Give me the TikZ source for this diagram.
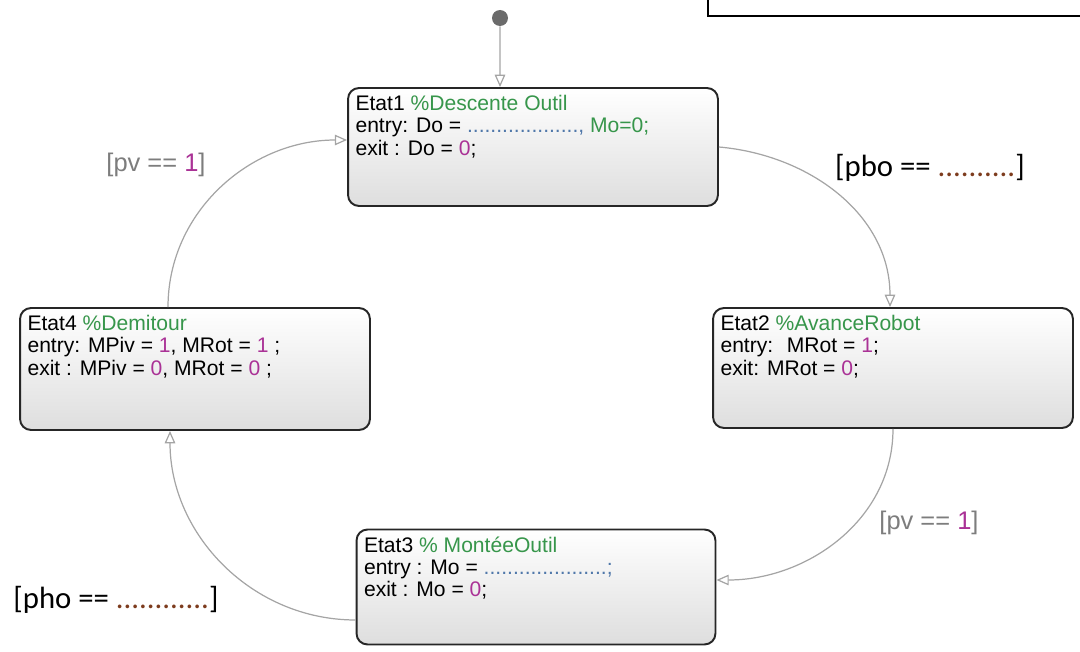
\documentclass[tikz,border=0pt]{standalone}
\usepackage{fontspec}
\setmainfont{Liberation Sans}
\newfontfamily\calibrifont{Carlito}
\usetikzlibrary{arrows.meta}

\definecolor{etatgreen}{RGB}{55,150,75}
\definecolor{etatmag}{RGB}{170,50,150}
\definecolor{dotblue}{RGB}{80,120,170}
\definecolor{dotbrown}{RGB}{125,60,30}
\definecolor{labelgray}{RGB}{125,125,125}
\definecolor{transgray}{RGB}{165,165,165}

\tikzset{
	etat/.style={draw=black!85, line width=1.1pt, rounded corners=0.22cm, top color=white, bottom color=black!13, inner sep=0.15cm, font=\fontsize{12}{12.6}\selectfont},
	trans/.style={draw=transgray, line width=0.7pt, -{Triangle[open,length=7pt,width=6pt]}},
	garde/.style={font=\fontsize{14.5}{16}\selectfont, text=labelgray},
	gardeq/.style={font=\calibrifont\fontsize{17.5}{20}\selectfont}
}

\begin{document}
\begin{tikzpicture}[x=0.02cm, y=-0.02cm]
				\useasboundingbox (0,0) rectangle (1080,652);

				% cadre en haut a droite
				\draw[line width=1pt] (708,-5) -- (708,16) -- (1090,16);

				\node[circle, fill=black!58, minimum size=0.32cm, inner sep=0pt] (init) at (500,18) {};

				\node[etat] (Etat1) at (533,147) {\parbox[c][2.06cm][t]{7.1cm}{\raggedright Etat1 \textcolor{etatgreen}{\%Descente Outil}\\
					entry: Do = \textcolor{dotblue}{...................,} \textcolor{etatgreen}{Mo=0;}\\
					exit : Do = \textcolor{etatmag}{0};}};

				\node[etat] (Etat2) at (893,368) {\parbox[c][2.1cm][t]{6.9cm}{\raggedright Etat2 \textcolor{etatgreen}{\%AvanceRobot}\\
					entry: \ MRot = \textcolor{etatmag}{1};\\
					exit: MRot = \textcolor{etatmag}{0};}};

				\node[etat] (Etat3) at (536,587) {\parbox[c][2.0cm][t]{6.88cm}{\raggedright Etat3 \textcolor{etatgreen}{\% Mont\'eeOutil}\\
					entry : Mo = \textcolor{dotblue}{.....................;}\\
					exit : Mo = \textcolor{etatmag}{0};}};

				\node[etat] (Etat4) at (195,369) {\parbox[c][2.14cm][t]{6.7cm}{\raggedright Etat4 \textcolor{etatgreen}{\%Demitour}\\
					entry: MPiv = \textcolor{etatmag}{1}, MRot = \textcolor{etatmag}{1} ;\\
					exit : MPiv = \textcolor{etatmag}{0}, MRot = \textcolor{etatmag}{0} ;}};

				\draw[trans] (init) -- ([xshift=-0.66cm]Etat1.north);
				\draw[trans] (Etat1.east) to[out=-5, in=90] ([xshift=-0.06cm]Etat2.north);
				\draw[trans] (Etat2.south) to[out=-90, in=0] ([yshift=0.14cm]Etat3.east);
				\draw[trans] ([yshift=-0.66cm]Etat3.west) to[out=180, in=-90] ([xshift=-0.5cm]Etat4.south);
				\draw[trans] ([xshift=-0.54cm]Etat4.north) to[out=90, in=180] ([yshift=0.14cm]Etat1.west);

				\node[gardeq] (pbo) at (930,168) {[pbo == \textcolor{dotbrown}{..........}]};
				\node[gardeq] (pho) at (116,600) {[pho == \textcolor{dotbrown}{............}]};
				\node[garde] (pv1) at (156,165) {[pv == \textcolor{etatmag}{1}]};
				\node[garde] (pv2) at (929,523) {[pv == \textcolor{etatmag}{1}]};
\end{tikzpicture}
\end{document}
